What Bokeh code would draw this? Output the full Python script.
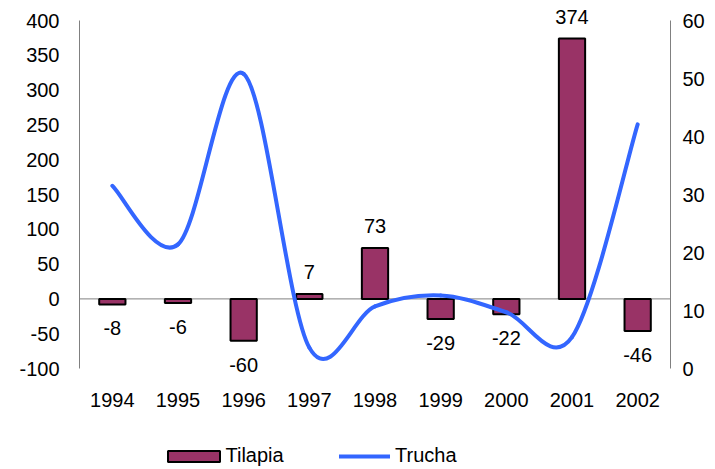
from bokeh.plotting import figure
from bokeh.layouts import column
from bokeh.models import (ColumnDataSource, Range1d, LinearAxis, FixedTicker, Span,
                          Legend, LegendItem)
from bokeh.core.properties import value
from bokeh.embed import file_html
from bokeh.resources import INLINE

years = ["1994", "1995", "1996", "1997", "1998", "1999", "2000", "2001", "2002"]
tilapia = [-8, -6, -60, 7, 73, -29, -22, 374, -46]
trucha = [31.5, 21.4, 50.8, 3.6, 10.7, 12.6, 9.7, 5.4, 42.1]
left_ticks = [-100, -50, 0, 50, 100, 150, 200, 250, 300, 350, 400]
left_tick_labels = ["-100", "-50", "0", "50", "100", "150", "200", "250", "300", "350", "400"]
right_ticks = [0, 10, 20, 30, 40, 50, 60]

FONT = "Liberation Sans"
FS = "20px"

W = 715
H_MAIN, H_LEG = 412, 57
LEFT, RIGHT, TOP, BOTTOM = 79, 45, 0, 34
# axis spans 348 px for -100..400; the frame extends a little beyond so labels are not clipped
ppu = 348.0 / 500.0
y_top = 400 + 20 / ppu
y_bot = -100 - 10 / ppu
r_top = (y_top + 100) * 60.0 / 500.0
r_bot = (y_bot + 100) * 60.0 / 500.0

xs = list(range(len(years)))

p = figure(width=W, height=H_MAIN, output_backend="svg", toolbar_location=None,
           x_range=Range1d(-0.5, len(years) - 0.5), y_range=Range1d(y_bot, y_top),
           min_border_left=LEFT, min_border_right=RIGHT, min_border_top=TOP,
           min_border_bottom=BOTTOM)
p.outline_line_color = None
p.xgrid.grid_line_color = None
p.ygrid.grid_line_color = None
p.extra_y_ranges = {"right": Range1d(r_bot, r_top)}

xa = p.xaxis[0]
xa.ticker = FixedTicker(ticks=xs)
xa.major_label_overrides = {i: y for i, y in enumerate(years)}
xa.axis_line_color = None
xa.major_tick_line_color = None
xa.minor_tick_line_color = None
xa.major_label_standoff = 8
xa.major_label_text_font = FONT
xa.major_label_text_font_size = FS
xa.major_label_text_color = "black"

ya = p.yaxis[0]
ya.ticker = FixedTicker(ticks=left_ticks)
ya.major_label_overrides = dict(zip(left_ticks, left_tick_labels))
ya.bounds = (-100, 400)
ya.axis_line_color = "#808080"
ya.major_tick_line_color = None
ya.minor_tick_line_color = None
ya.major_label_standoff = 14
ya.major_label_text_font = FONT
ya.major_label_text_font_size = FS
ya.major_label_text_color = "black"

ra = LinearAxis(y_range_name="right", ticker=FixedTicker(ticks=right_ticks), bounds=(0, 60))
ra.axis_line_color = "#808080"
ra.major_tick_line_color = None
ra.minor_tick_line_color = None
ra.major_label_standoff = 6
ra.major_label_text_font = FONT
ra.major_label_text_font_size = FS
ra.major_label_text_color = "black"
p.add_layout(ra, "right")

p.add_layout(Span(location=0, dimension="width", line_color="#808080",
                  line_width=1, level="underlay"))

# bars
src = ColumnDataSource(dict(
    x=xs, top=tilapia, label=[str(v) for v in tilapia],
    off=[-22 if v >= 0 else 24 for v in tilapia]))
BAR_STYLE = dict(fill_color="#993366", line_color="black", line_width=2)
p.vbar(x="x", top="top", bottom=0, width=0.4, source=src, **BAR_STYLE)
p.text(x="x", y="top", text="label", y_offset="off", source=src,
       text_font=value(FONT), text_font_size=FS, text_align="center",
       text_baseline="middle", text_color="black")

# smoothed line (Catmull-Rom style bezier segments, like a spreadsheet "smoothed line")
n = len(trucha)
pts = list(zip(xs, trucha))
x0 = []; y0 = []; x1 = []; y1 = []; cx0 = []; cy0 = []; cx1 = []; cy1 = []
for i in range(n - 1):
    pm = pts[i - 1] if i > 0 else pts[i]
    p0 = pts[i]
    p1 = pts[i + 1]
    p2 = pts[i + 2] if i + 2 < n else pts[i + 1]
    x0.append(p0[0]); y0.append(p0[1]); x1.append(p1[0]); y1.append(p1[1])
    cx0.append(p0[0] + (p1[0] - pm[0]) / 6.0)
    cy0.append(p0[1] + (p1[1] - pm[1]) / 6.0)
    cx1.append(p1[0] - (p2[0] - p0[0]) / 6.0)
    cy1.append(p1[1] - (p2[1] - p0[1]) / 6.0)
bsrc = ColumnDataSource(dict(x0=x0, y0=y0, x1=x1, y1=y1, cx0=cx0, cy0=cy0, cx1=cx1, cy1=cy1))
LINE_STYLE = dict(line_color="#3366FF", line_width=4, line_cap="round")
p.bezier(x0="x0", y0="y0", x1="x1", y1="y1", cx0="cx0", cy0="cy0",
         cx1="cx1", cy1="cy1", source=bsrc, y_range_name="right", **LINE_STYLE)

# legend strip below the chart (its series renderers are hidden, only the legend shows)
q = figure(width=W, height=H_LEG, output_backend="svg", toolbar_location=None,
           x_range=Range1d(-0.5, len(years) - 0.5), y_range=Range1d(0, 1),
           x_axis_type=None, y_axis_type=None,
           min_border_left=0, min_border_right=0, min_border_top=0, min_border_bottom=0)
q.outline_line_color = None
q.xgrid.grid_line_color = None
q.ygrid.grid_line_color = None
lb = q.vbar(x="x", top="top", bottom=0, width=0.4, source=src, visible=False, **BAR_STYLE)
ll = q.bezier(x0="x0", y0="y0", x1="x1", y1="y1", cx0="cx0", cy0="cy0",
              cx1="cx1", cy1="cy1", source=bsrc, visible=False, **LINE_STYLE)

LEG_STYLE = dict(orientation="horizontal", click_policy="none", inactive_fill_alpha=0,
                 padding=0, margin=0, border_line_color=None, background_fill_alpha=0,
                 label_text_font=FONT, label_text_font_size=FS, label_text_color="black")
leg1 = Legend(items=[LegendItem(label="Tilapia", renderers=[lb])],
              location=(81.5, 2), glyph_width=65, glyph_height=14, label_standoff=0,
              **LEG_STYLE)
leg2 = Legend(items=[LegendItem(label="Trucha", renderers=[ll])],
              location=(260, 2), glyph_width=51, glyph_height=14, label_standoff=5,
              **LEG_STYLE)
q.add_layout(leg1, "center")
q.add_layout(leg2, "center")

open("out.html", "w").write(file_html(column(p, q, spacing=0), INLINE))
